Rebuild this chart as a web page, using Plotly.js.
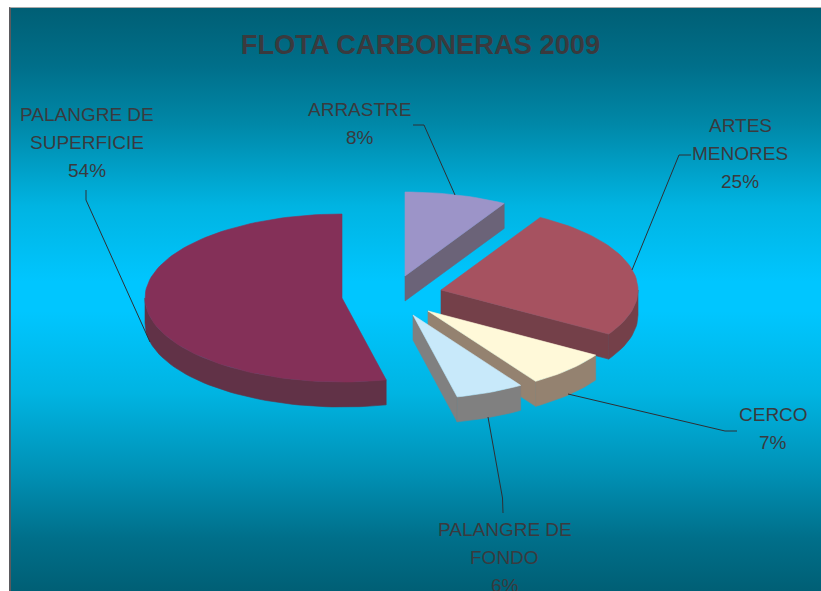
<!DOCTYPE html>
<html><head><meta charset="utf-8">
<script src="https://cdn.plot.ly/plotly-3.0.1.min.js"></script>
<style>
html,body{margin:0;padding:0;background:#fff;overflow:hidden}
#frame{position:absolute;left:9px;top:7px;width:812px;height:584px;box-sizing:border-box;border-left:2px solid #5a5a5e;border-top:1px solid #aaa;
background:linear-gradient(to bottom,#005f75 0%,#006f8a 10%,#0088a8 20%,#00b4e2 34%,#00c6ff 47%,#00c6ff 52%,#00b4e2 66%,#0090b4 80%,#006f8a 91%,#005f75 100%)}
#chart{position:absolute;left:0;top:0;width:821px;height:591px}
</style></head><body>
<div id="frame"></div><div id="chart"></div>
<script>
// Data
const categories = ["ARRASTRE","ARTES<br>MENORES","CERCO","PALANGRE DE<br>FONDO","PALANGRE DE<br>SUPERFICIE"];
const shares = [8.4, 25.4, 7.0, 5.6, 53.6];
const topColors = ["#9c94c8","#a65260","#fff9d9","#c8e9fa","#843058"];
const sideColors = ["#6b6378","#744049","#948270","#808080","#613247"];
const apexX = [405, 441, 428, 413, 342];
const apexY = [276, 290, 311, 315, 298];
const labelX = [359.5, 740, 773, 504.5, 87];
const labelY = [109, 125.5, 414.5, 529.5, 114.5];
const leaderX = [[413,424,455],[691,679,632],[737,725,568],[503,502.5,488],[86,86,150]];
const leaderY = [[125,125,195],[155,155,270],[431,431,394],[513,498,417],[190,200,342]];
const titleText = "FLOTA CARBONERAS 2009";
const RX = 197, RY = 84, DEPTH = 25, LINE = 28;

const rad = d => d*Math.PI/180;
const px = (i,t) => apexX[i] + RX*Math.sin(rad(t));
const py = (i,t,dz=0) => apexY[i] - RY*Math.cos(rad(t)) + dz;
const total = shares.reduce((a,b)=>a+b,0);
let acc = 0;
const spans = shares.map(v => { const a = acc; acc += v/total*360; return [a, acc]; });
const arc = (a,b) => { const o=[]; const n=Math.max(2,Math.ceil((b-a)/2)); for(let k=0;k<=n;k++) o.push(a+(b-a)*k/n); return o; };

const traces = [];
const poly = (x,y,color) => traces.push({type:'scatter',mode:'lines',x:x.concat(x[0]),y:y.concat(y[0]),fill:'toself',fillcolor:color,line:{width:0.6,color:color},hoverinfo:'skip',showlegend:false});

// draw back to front
[0,4,1,2,3].forEach(i => {
  const [t0,t1] = spans[i];
  if (Math.cos(rad(t1+90)) < 0) {
    poly([apexX[i],px(i,t1),px(i,t1),apexX[i]],
         [apexY[i],py(i,t1),py(i,t1,DEPTH),apexY[i]+DEPTH],sideColors[i]);
  }
  const a=Math.max(t0,90), b=Math.min(t1,270);
  if (b>a) {
    const ts=arc(a,b);
    poly(ts.map(t=>px(i,t)).concat(ts.slice().reverse().map(t=>px(i,t))),
         ts.map(t=>py(i,t)).concat(ts.slice().reverse().map(t=>py(i,t,DEPTH))),sideColors[i]);
  }
  const ts=arc(t0,t1);
  poly([apexX[i]].concat(ts.map(t=>px(i,t))),[apexY[i]].concat(ts.map(t=>py(i,t))),topColors[i]);
});
categories.forEach((c,i)=>traces.push({type:'scatter',mode:'lines',x:leaderX[i],y:leaderY[i],line:{width:1,color:'#2f2f34'},hoverinfo:'skip',showlegend:false}));

const font = {family:'"Liberation Sans",Arial,sans-serif',size:19,color:'#3a3a3e'};
const annotations = [];
categories.forEach((c,i)=>{
  const lines = c.split('<br>').concat(Math.round(shares[i]/total*100)+'%');
  lines.forEach((t,k)=>annotations.push({xref:'x',yref:'y',x:labelX[i],y:labelY[i]+k*LINE,text:t,showarrow:false,xanchor:'center',yanchor:'middle',font,captureevents:false}));
});

Plotly.newPlot('chart',traces,{
  width:821,height:591,margin:{l:0,r:0,t:0,b:0},
  paper_bgcolor:'rgba(0,0,0,0)',plot_bgcolor:'rgba(0,0,0,0)',showlegend:false,
  title:{text:titleText,x:420.5/821,xanchor:'center',y:1-44/591,yanchor:'middle',font:{family:'"Liberation Sans",Arial,sans-serif',size:27.3,color:'#3a3a3e',weight:'bold'}},
  xaxis:{range:[0,821],visible:false,fixedrange:true},
  yaxis:{range:[591,0],visible:false,fixedrange:true},
  annotations
},{staticPlot:true,displayModeBar:false});
</script></body></html>
